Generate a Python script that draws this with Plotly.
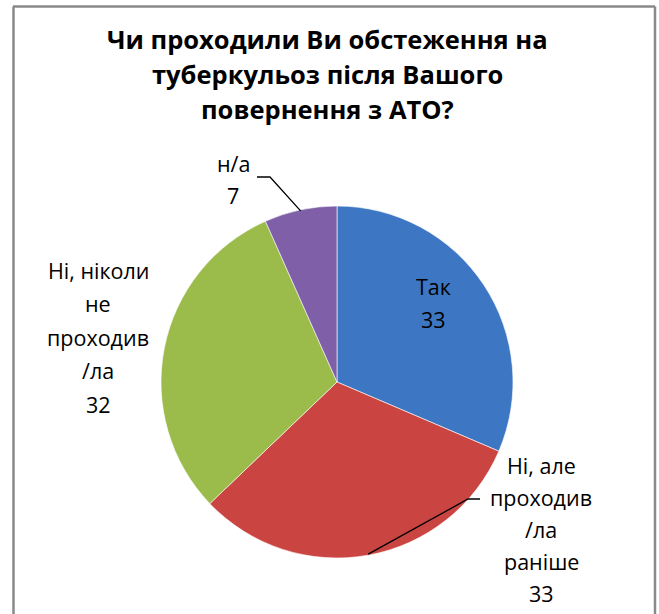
import math
import plotly.graph_objects as go

# ---- data ----
categories = ["Так", "Ні, але проходив/ла раніше", "Ні, ніколи не проходив/ла", "н/а"]
values = [33, 33, 32, 7]
label_lines = [
    ["Так", "33"],
    ["Ні, але", "проходив", "/ла", "раніше", "33"],
    ["Ні, ніколи", "не", "проходив", "/ла", "32"],
    ["н/а", "7"],
]
colors = ["#3D77C3", "#CA4541", "#9BBB4A", "#7E5FA8"]
title_lines = ["Чи проходили Ви обстеження на", "туберкульоз після Вашого", "повернення з АТО?"]

W, H = 659, 614
CX, CY, R = 337, 382, 176  # pie centre / radius in pixels


def px(x):
    return x / W


def py(y):
    return 1 - y / H


fig = go.Figure(go.Pie(
    labels=categories,
    values=values,
    sort=False,
    direction="clockwise",
    rotation=0,
    marker=dict(colors=colors, line=dict(color="rgba(255,255,255,0.6)", width=1)),
    textinfo="none",
    hoverinfo="label+value",
    domain=dict(x=[px(CX - R), px(CX + R)], y=[py(CY + R), py(CY - R)]),
    showlegend=False,
))

annotations = []
shapes = []

FONT = "Open Sans"

# title
for i, t in enumerate(title_lines):
    annotations.append(dict(x=px(327), y=py(39 + 35 * i), xref="paper", yref="paper",
                            text=f"<b>{t}</b>", showarrow=False,
                            font=dict(family=FONT, size=25.5, color="#000"),
                            xanchor="center", yanchor="middle"))

# label blocks: centre x, first line y, line spacing
label_pos = [(433, 286), (541, 465), (98, 270), (233, 163)]
spacing = [33, 32, 33.5, 33]
for k, lines in enumerate(label_lines):
    lx, ly = label_pos[k]
    for j, t in enumerate(lines):
        annotations.append(dict(x=px(lx), y=py(ly + spacing[k] * j), xref="paper", yref="paper",
                                text=t, showarrow=False,
                                font=dict(family=FONT, size=21.5, color="#000"),
                                xanchor="center", yanchor="middle"))

# leader lines to slice mid-angles (computed from the data)
total = sum(values)
cum = 0
mids = []
for v in values:
    mids.append((cum + v / 2) / total * 2 * math.pi)
    cum += v


def edge(a, r=R):
    return CX + r * math.sin(a), CY - r * math.cos(a)


leaders = {3: [(257, 177), (270, 177)], 1: [(480, 499), (468, 499)]}
for k, pts in leaders.items():
    ex, ey = edge(mids[k], R - 1)
    path_pts = pts + [(ex, ey)]
    d = "M " + " L ".join(f"{px(x)},{py(y)}" for x, y in path_pts)
    shapes.append(dict(type="path", xref="paper", yref="paper", path=d,
                       line=dict(color="#000", width=1.3)))

# chart frame (top, left, right edges; bottom lies below the visible area)
frame = dict(color="#8a8a8a", width=2.5)
shapes.append(dict(type="line", xref="paper", yref="paper",
                   x0=px(13), x1=px(655), y0=py(6.5), y1=py(6.5), line=frame))
shapes.append(dict(type="line", xref="paper", yref="paper",
                   x0=px(13.5), x1=px(13.5), y0=py(6.5), y1=0, line=frame))
shapes.append(dict(type="line", xref="paper", yref="paper",
                   x0=px(655), x1=px(655), y0=py(6.5), y1=0, line=frame))

fig.update_layout(
    width=W, height=H,
    margin=dict(l=0, r=0, t=0, b=0),
    paper_bgcolor="white",
    plot_bgcolor="white",
    xaxis=dict(visible=False, range=[0, 1], fixedrange=True),
    yaxis=dict(visible=False, range=[0, 1], fixedrange=True),
    annotations=annotations,
    shapes=shapes,
)

fig.write_html("out.html", config={"displayModeBar": False},
               post_script="document.body.style.margin='0';document.body.style.overflow='hidden';")
